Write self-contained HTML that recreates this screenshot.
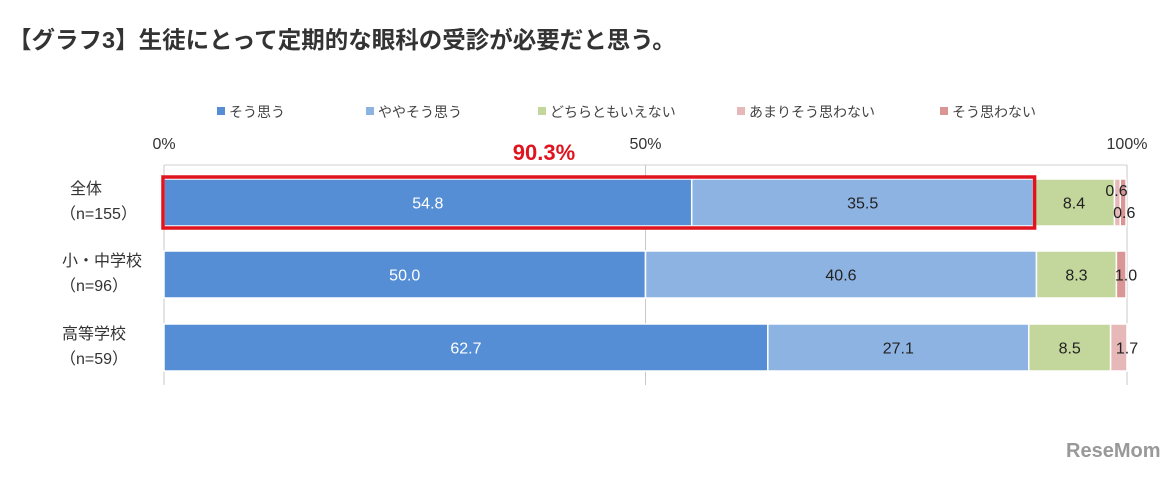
<!DOCTYPE html>
<html><head><meta charset="utf-8"><style>
body{margin:0;width:1174px;height:474px;background:#fff;overflow:hidden;font-family:"Liberation Sans","Noto Sans CJK JP",sans-serif;}
</style></head><body>
<svg id="c" width="1174" height="474" xmlns="http://www.w3.org/2000/svg">
<text x="8" y="48" font-size="23.5" font-weight="bold" fill="#333" font-family="Liberation Sans, Noto Sans CJK JP, sans-serif">【グラフ3】生徒にとって定期的な眼科の受診が必要だと思う。</text>
<g id="legend"></g><g id="grid"></g><g id="bars"></g><g id="labels"></g>
<text x="1066" y="457" font-size="20" font-weight="bold" fill="#999" font-family="Liberation Sans, sans-serif">ReseMom</text>
</svg>
<script>
const categories=["全体","小・中学校","高等学校"];
const sampleSizes=["（n=155）","（n=96）","（n=59）"];
const seriesNames=["そう思う","ややそう思う","どちらともいえない","あまりそう思わない","そう思わない"];
const s1=[54.8,50.0,62.7];
const s2=[35.5,40.6,27.1];
const s3=[8.4,8.3,8.5];
const s4=[0.6,0,1.7];
const s5=[0.6,1.0,0];
const ticks=[0,50,100];
const colors=["#558ed5","#8db3e2","#c3d69b","#e6b9b8","#d99694"];
const NS="http://www.w3.org/2000/svg";
const x=v=>164+v*(1127-164)/100;
const rowY=[179,251,324], barH=47;
const F="Liberation Sans, Noto Sans CJK JP, sans-serif";
function mk(t,a,p){const e=document.createElementNS(NS,t);for(const k in a)e.setAttribute(k,a[k]);p.appendChild(e);return e;}
const lg=document.getElementById('legend');
const lx=[217,366,538,737,940];
seriesNames.forEach((n,i)=>{
 const r=mk('rect',{x:lx[i],y:107,width:8,height:8,fill:colors[i]},lg);
 
 
 const t=mk('text',{x:lx[i]+12,y:117,'font-size':14,fill:'#444','font-family':F},lg);t.textContent=n;
 
 
});
const g=document.getElementById('grid');
const hl=mk('line',{x1:164,x2:1127,y1:165,y2:165,stroke:'#d0d0d0'},g);


ticks.forEach(v=>{
 const l=mk('line',{x1:x(v),x2:x(v),y1:165,y2:385,stroke:'#c8c8c8'},g);
 
 
 const t=mk('text',{x:x(v),y:149,'font-size':16,fill:'#333','text-anchor':'middle','font-family':F},g);t.textContent=v+'%';
 
 
});
const b=document.getElementById('bars');
const lb=document.getElementById('labels');
const series=[s1,s2,s3,s4,s5];
categories.forEach((c,r)=>{
 const y=rowY[r];
 const t1=mk('text',{x:r===0?70:62,y:y+15,'font-size':16,fill:'#333','font-family':F},lb);t1.textContent=c;
 
 
 const t2=mk('text',{x:60,y:y+40,'font-size':16,fill:'#333','font-family':F},lb);t2.textContent=sampleSizes[r];
 
 
 let acc=0;
 series.forEach((s,i)=>{
  const v=s[r]; if(!v) return;
  const rc=mk('rect',{x:x(acc),y:y,width:x(acc+v)-x(acc),height:barH,fill:colors[i],stroke:'#fff','stroke-width':1.5},b);
  
  
  let tx=x(acc+v/2),ty=y+barH/2+6;
  if(i>=3){tx=x(acc+v);}
  if(r===0&&i===3){ty=y+17;tx=x(acc)+2;}
  if(r===0&&i===4){ty=y+39;tx=x(acc)+4;}
  const lt=mk('text',{x:tx,y:ty,'font-size':16,fill:i===0?'#fff':'#222','text-anchor':'middle','font-family':F},lb);
  lt.textContent=v.toFixed(1);
  
  
  acc+=v;
 });
});
const hb=mk('rect',{x:x(0)-1,y:rowY[0]-2,width:x(s1[0]+s2[0])-x(0)+2,height:barH+4,fill:'none',stroke:'#e0141e','stroke-width':3.5},b);


const ht=mk('text',{x:544,y:160,'font-size':22,'font-weight':'bold',fill:'#e0141e','text-anchor':'middle','font-family':F},lb);
ht.textContent=(s1[0]+s2[0]).toFixed(1)+'%';


</script>
</body></html>
